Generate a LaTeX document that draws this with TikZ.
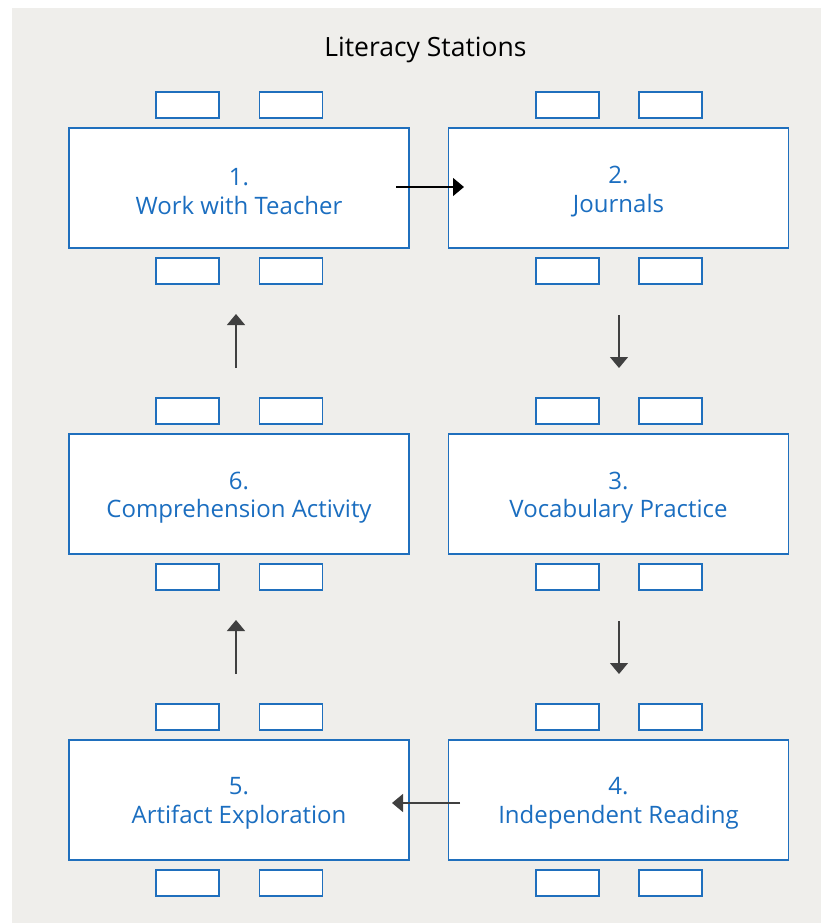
\documentclass[tikz,border=0pt]{standalone}
\usepackage{fontspec}
\setmainfont{Open Sans}
\usetikzlibrary{arrows.meta}
\definecolor{bg}{HTML}{EFEEEB}
\definecolor{edge}{HTML}{1F6FBD}
\definecolor{txt}{HTML}{1B6EC0}
\begin{document}
\begin{tikzpicture}[x=1pt,y=-1pt,
  station/.style={draw=edge,line width=1.4pt,fill=white,minimum width=340pt,minimum height=120pt,inner sep=0pt},
  stationtext/.style={align=center,text=txt,font=\fontsize{24}{28.5}\selectfont,inner sep=0pt},
  chair/.style={draw=edge,line width=1.4pt,fill=white,minimum width=63pt,minimum height=26pt,inner sep=0pt},
  flow/.style={line width=1.3pt,draw=black!75,-{Triangle[length=11pt,width=18pt]}}]
\useasboundingbox (0,0) rectangle (821,923);
\fill[bg] (12,8) rectangle (821,923);
\node[font=\fontsize{26.5}{30}\selectfont,text=black] (title) at (425.5,50) {Literacy Stations};
% stations
\node[station] (s1) at (239,188) {};
\node[station] (s2) at (618.5,188) {};
\node[station] (s3) at (618.5,494) {};
\node[station] (s4) at (618.5,800) {};
\node[station] (s5) at (239,800) {};
\node[station] (s6) at (239,494) {};
\node[stationtext] (s1t) at ([yshift=-3.5pt]s1.center) {1.\\Work with Teacher};
\node[stationtext] (s2t) at ([yshift=-3.5pt]s2.center) {2.\\Journals};
\node[stationtext] (s3t) at ([yshift=-3.5pt]s3.center) {3.\\Vocabulary Practice};
\node[stationtext] (s4t) at ([yshift=-3.5pt]s4.center) {4.\\Independent Reading};
\node[stationtext] (s5t) at ([yshift=-3.5pt]s5.center) {5.\\Artifact Exploration};
\node[stationtext] (s6t) at ([yshift=-3.5pt]s6.center) {6.\\Comprehension Activity};
% chairs
\foreach \r/\y in {1/0,2/306,3/612}{
  \foreach \c/\xa/\xb in {L/187.5/291,R/567.5/670.5}{
    \node[chair] (ct\r\c a) at (\xa,105+\y) {};
    \node[chair] (ct\r\c b) at (\xb,105+\y) {};
    \node[chair] (cb\r\c a) at (\xa,271+\y) {};
    \node[chair] (cb\r\c b) at (\xb,271+\y) {};
  }
}
% arrow end points
\coordinate (a1s) at (396,187);
\coordinate (a1e) at (464,187);
\coordinate (a2s) at (619,315);
\coordinate (a2e) at (619,368);
\coordinate (a3s) at (619,621);
\coordinate (a3e) at (619,674);
\coordinate (a4s) at (460,803);
\coordinate (a4e) at (392,803);
\coordinate (a5s) at (236,674);
\coordinate (a5e) at (236,620);
\coordinate (a6s) at (236,368);
\coordinate (a6e) at (236,314);
\draw[flow,draw=black] (a1s) -- (a1e);
\draw[flow] (a2s) -- (a2e);
\draw[flow] (a3s) -- (a3e);
\draw[flow] (a4s) -- (a4e);
\draw[flow] (a5s) -- (a5e);
\draw[flow] (a6s) -- (a6e);
\end{tikzpicture}
\end{document}
